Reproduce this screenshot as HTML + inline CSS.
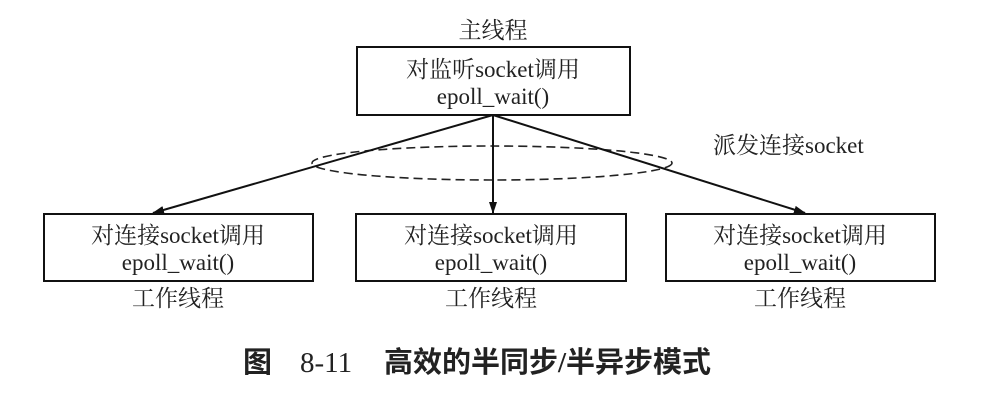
<!DOCTYPE html>
<html><head><meta charset="utf-8"><style>
body{margin:0;background:#fff}
svg text{font-family:"Liberation Serif","Noto Serif CJK SC",serif;fill:#222}
</style></head><body>
<svg width="994" height="403" viewBox="0 0 994 403" xmlns="http://www.w3.org/2000/svg">
<defs><marker id="a" markerWidth="12" markerHeight="8" refX="11" refY="4" orient="auto" markerUnits="userSpaceOnUse"><path d="M0,0 L12,4 L0,8 z" fill="#111"/></marker></defs>
<text x="493" y="38" font-size="23" text-anchor="middle">主线程</text>
<rect x="357" y="47" width="273" height="68" fill="none" stroke="#111" stroke-width="2"/>
<text x="493" y="77" font-size="23" text-anchor="middle">对监听socket调用</text>
<text x="493" y="104" font-size="23" text-anchor="middle">epoll_wait()</text>
<ellipse cx="492" cy="163" rx="180" ry="17" fill="none" stroke="#222" stroke-width="1.6" stroke-dasharray="9,5"/>
<g stroke="#111" stroke-width="2" fill="none">
<line x1="493" y1="115" x2="153" y2="213" marker-end="url(#a)"/>
<line x1="493" y1="115" x2="493" y2="213" marker-end="url(#a)"/>
<line x1="493" y1="115" x2="805" y2="213" marker-end="url(#a)"/>
</g>
<text x="713" y="153" font-size="23">派发连接socket</text>
<g fill="none" stroke="#111" stroke-width="2">
<rect x="44" y="214" width="269" height="67"/>
<rect x="356" y="214" width="270" height="67"/>
<rect x="666" y="214" width="269" height="67"/>
</g>
<g font-size="23" text-anchor="middle">
<text x="178" y="243">对连接socket调用</text><text x="178" y="270">epoll_wait()</text><text x="178" y="306">工作线程</text>
<text x="491" y="243">对连接socket调用</text><text x="491" y="270">epoll_wait()</text><text x="491" y="306">工作线程</text>
<text x="800" y="243">对连接socket调用</text><text x="800" y="270">epoll_wait()</text><text x="800" y="306">工作线程</text>
</g>
<text x="243" y="372" font-size="29" font-weight="bold" style="font-family:'Liberation Serif','Noto Sans CJK SC',sans-serif">图</text>
<text x="300" y="372" font-size="29" style="font-family:'Liberation Serif',serif">8-11</text>
<text x="384" y="372" font-size="29" font-weight="bold" style="font-family:'Liberation Serif','Noto Sans CJK SC',sans-serif">高效的半同步/半异步模式</text>
</svg>
</body></html>
